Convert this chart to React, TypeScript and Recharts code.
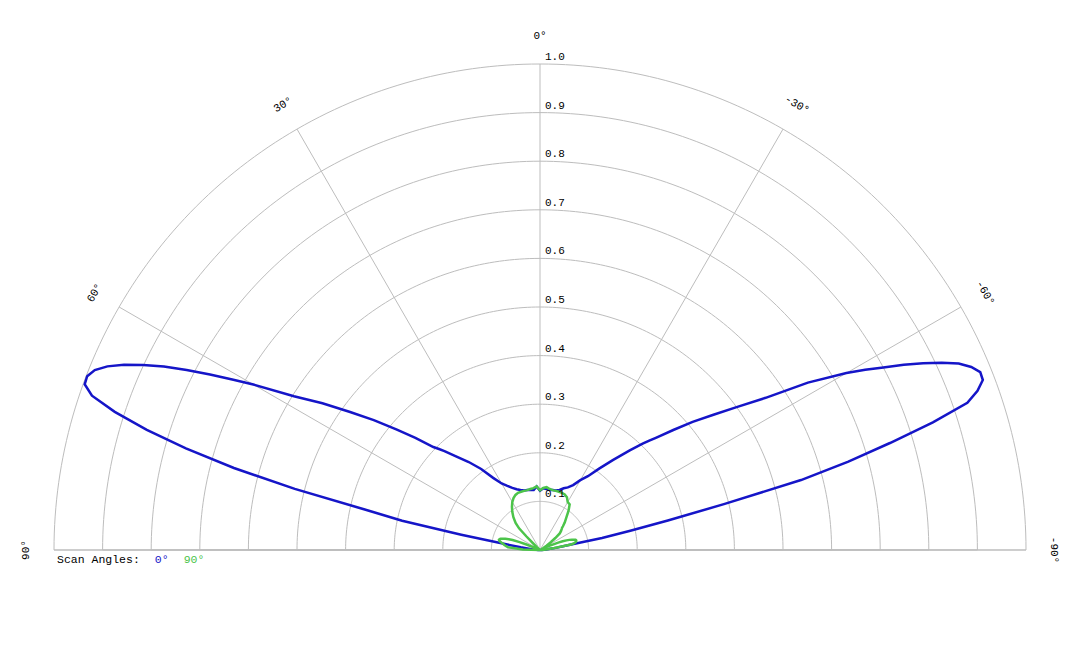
import React from "react";
import { RadarChart, Radar, PolarGrid, PolarAngleAxis, PolarRadiusAxis } from "recharts";

// scan angle in degrees: +90 is left horizon, 0 is broadside (top), -90 right horizon
const angles = [
  90, 88, 85, 82, 80, 79, 78, 77, 76, 75, 74, 73, 72, 71, 70, 69, 68, 67, 66, 65, 64, 63, 62, 61, 60,
  58, 56, 54, 52, 50, 48, 46, 45, 44, 42, 39, 36, 33, 30, 27, 24, 21, 18, 15, 12, 9, 6, 3, 0,
  -3, -6, -9, -12, -15, -18, -21, -24, -27, -30, -33, -36, -39, -42, -44, -45, -46, -48, -50, -52, -54, -56, -58,
  -60, -61, -62, -63, -64, -65, -66, -67, -68, -69, -70, -71, -72, -73, -74, -75, -76, -77, -78, -79, -80,
  -82, -85, -88, -90,
];

const scan0 = [
  0, 0.004, 0.015, 0.04, 0.088, 0.165, 0.29, 0.37, 0.52, 0.652, 0.758, 0.846, 0.92, 0.975, 0.997, 0.998, 0.988, 0.967, 0.937, 0.901, 0.861, 0.816, 0.769, 0.724, 0.681,
  0.597, 0.54, 0.483, 0.434, 0.386, 0.345, 0.305, 0.294, 0.283, 0.26, 0.233, 0.206, 0.177, 0.158, 0.148, 0.14, 0.134, 0.13, 0.127, 0.126, 0.125, 0.124, 0.131, 0.122,
  0.127, 0.126, 0.125, 0.126, 0.127, 0.13, 0.136, 0.141, 0.15, 0.166, 0.181, 0.207, 0.238, 0.276, 0.304, 0.318, 0.333, 0.369, 0.41, 0.451, 0.5, 0.56, 0.65,
  0.728, 0.765, 0.8, 0.84, 0.877, 0.912, 0.943, 0.964, 0.977, 0.976, 0.958, 0.93, 0.85, 0.753, 0.66, 0.556, 0.39, 0.27, 0.19, 0.13, 0.065,
  0.035, 0.012, 0.004, 0,
];

const scan90 = [
  0, 0.035, 0.066, 0.074, 0.078, 0.081, 0.084, 0.086, 0.087, 0.086, 0.084, 0.08, 0.075, 0.068, 0.06, 0.045, 0.03, 0.014, 0.006, 0.004, 0.003, 0.003, 0.003, 0.003, 0.003,
  0.003, 0.003, 0.003, 0.003, 0.004, 0.008, 0.02, 0.04, 0.062, 0.075, 0.087, 0.097, 0.106, 0.114, 0.12, 0.124, 0.126, 0.126, 0.126, 0.126, 0.127, 0.128, 0.131, 0.123,
  0.128, 0.13, 0.127, 0.126, 0.126, 0.126, 0.126, 0.125, 0.122, 0.114, 0.112, 0.1, 0.086, 0.076, 0.068, 0.064, 0.062, 0.058, 0.053, 0.04, 0.028, 0.016, 0.008,
  0.004, 0.003, 0.004, 0.006, 0.01, 0.015, 0.022, 0.03, 0.042, 0.05, 0.058, 0.064, 0.069, 0.073, 0.076, 0.077, 0.077, 0.076, 0.074, 0.071, 0.065,
  0.03, 0.012, 0.004, 0,
];

const angleTicks = [-90, -60, -30, 0, 30, 60, 90];
const radiusTicks = [0, 0.1, 0.2, 0.3, 0.4, 0.5, 0.6, 0.7, 0.8, 0.9, 1];

const series = [
  { key: "scan0", name: "0°", color: "#1515c8" },
  { key: "scan90", name: "90°", color: "#4cc44a" },
];

const rows = angles.map((angle, i) => ({ angle, scan0: scan0[i], scan90: scan90[i] }));

const FONT = "'Liberation Mono', 'DejaVu Sans Mono', monospace";

// dense angle list so the concentric rings come out as half circles
const arcAngles = Array.from({ length: 181 }, (_, i) => i);

const AngleTick = ({ x, y, payload }: any) => (
  <text
    x={x}
    y={y}
    textAnchor="middle"
    dominantBaseline="central"
    fontFamily={FONT}
    fontSize={11}
    fill="#000"
    transform={`rotate(${-payload.value}, ${x}, ${y})`}
  >
    {payload.value}°
  </text>
);

const RadiusTick = ({ x, y, payload }: any) => {
  if (!payload.value) return null;
  return (
    <text x={x + 5} y={y - 4} fontFamily={FONT} fontSize={11} fill="#000">
      {Number(payload.value).toFixed(1)}
    </text>
  );
};

export default function App() {
  return (
    <div style={{ position: "relative", width: 1064, height: 632 }}>
      <RadarChart
        width={1064}
        height={632}
        data={rows}
        cx={532}
        cy={542}
        innerRadius={0}
        outerRadius={486}
        startAngle={0}
        endAngle={180}
        margin={{ top: 0, right: 0, bottom: 0, left: 0 }}
      >
        <PolarGrid gridType="polygon" polarAngles={arcAngles} radialLines={false} stroke="#bdbdbd" />
        <PolarGrid gridType="polygon" polarRadius={[]} stroke="#bdbdbd" />
        <PolarAngleAxis
          dataKey="angle"
          type="number"
          domain={[-90, 90]}
          ticks={angleTicks}
          tickCount={7}
          axisLine={false}
          tickLine={false}
          tickSize={28}
          tick={<AngleTick />}
        />
        <PolarRadiusAxis
          angle={90}
          type="number"
          domain={[0, 1]}
          ticks={radiusTicks}
          tickCount={11}
          axisLine={false}
          tick={<RadiusTick />}
        />
        {series.map((s) => (
          <Radar
            key={s.key}
            dataKey={s.key}
            name={s.name}
            stroke={s.color}
            strokeWidth={2.5}
            fill="none"
            fillOpacity={0}
            dot={false}
            isAnimationActive={false}
          />
        ))}
      </RadarChart>
      <div
        style={{
          position: "absolute",
          left: 49,
          top: 545,
          fontFamily: FONT,
          fontSize: 11.5,
          color: "#000",
          whiteSpace: "pre",
        }}
      >
        Scan Angles:
        {series.map((s) => (
          <span key={s.key} style={{ color: s.color, marginLeft: 15 }}>
            {s.name}
          </span>
        ))}
      </div>
    </div>
  );
}
